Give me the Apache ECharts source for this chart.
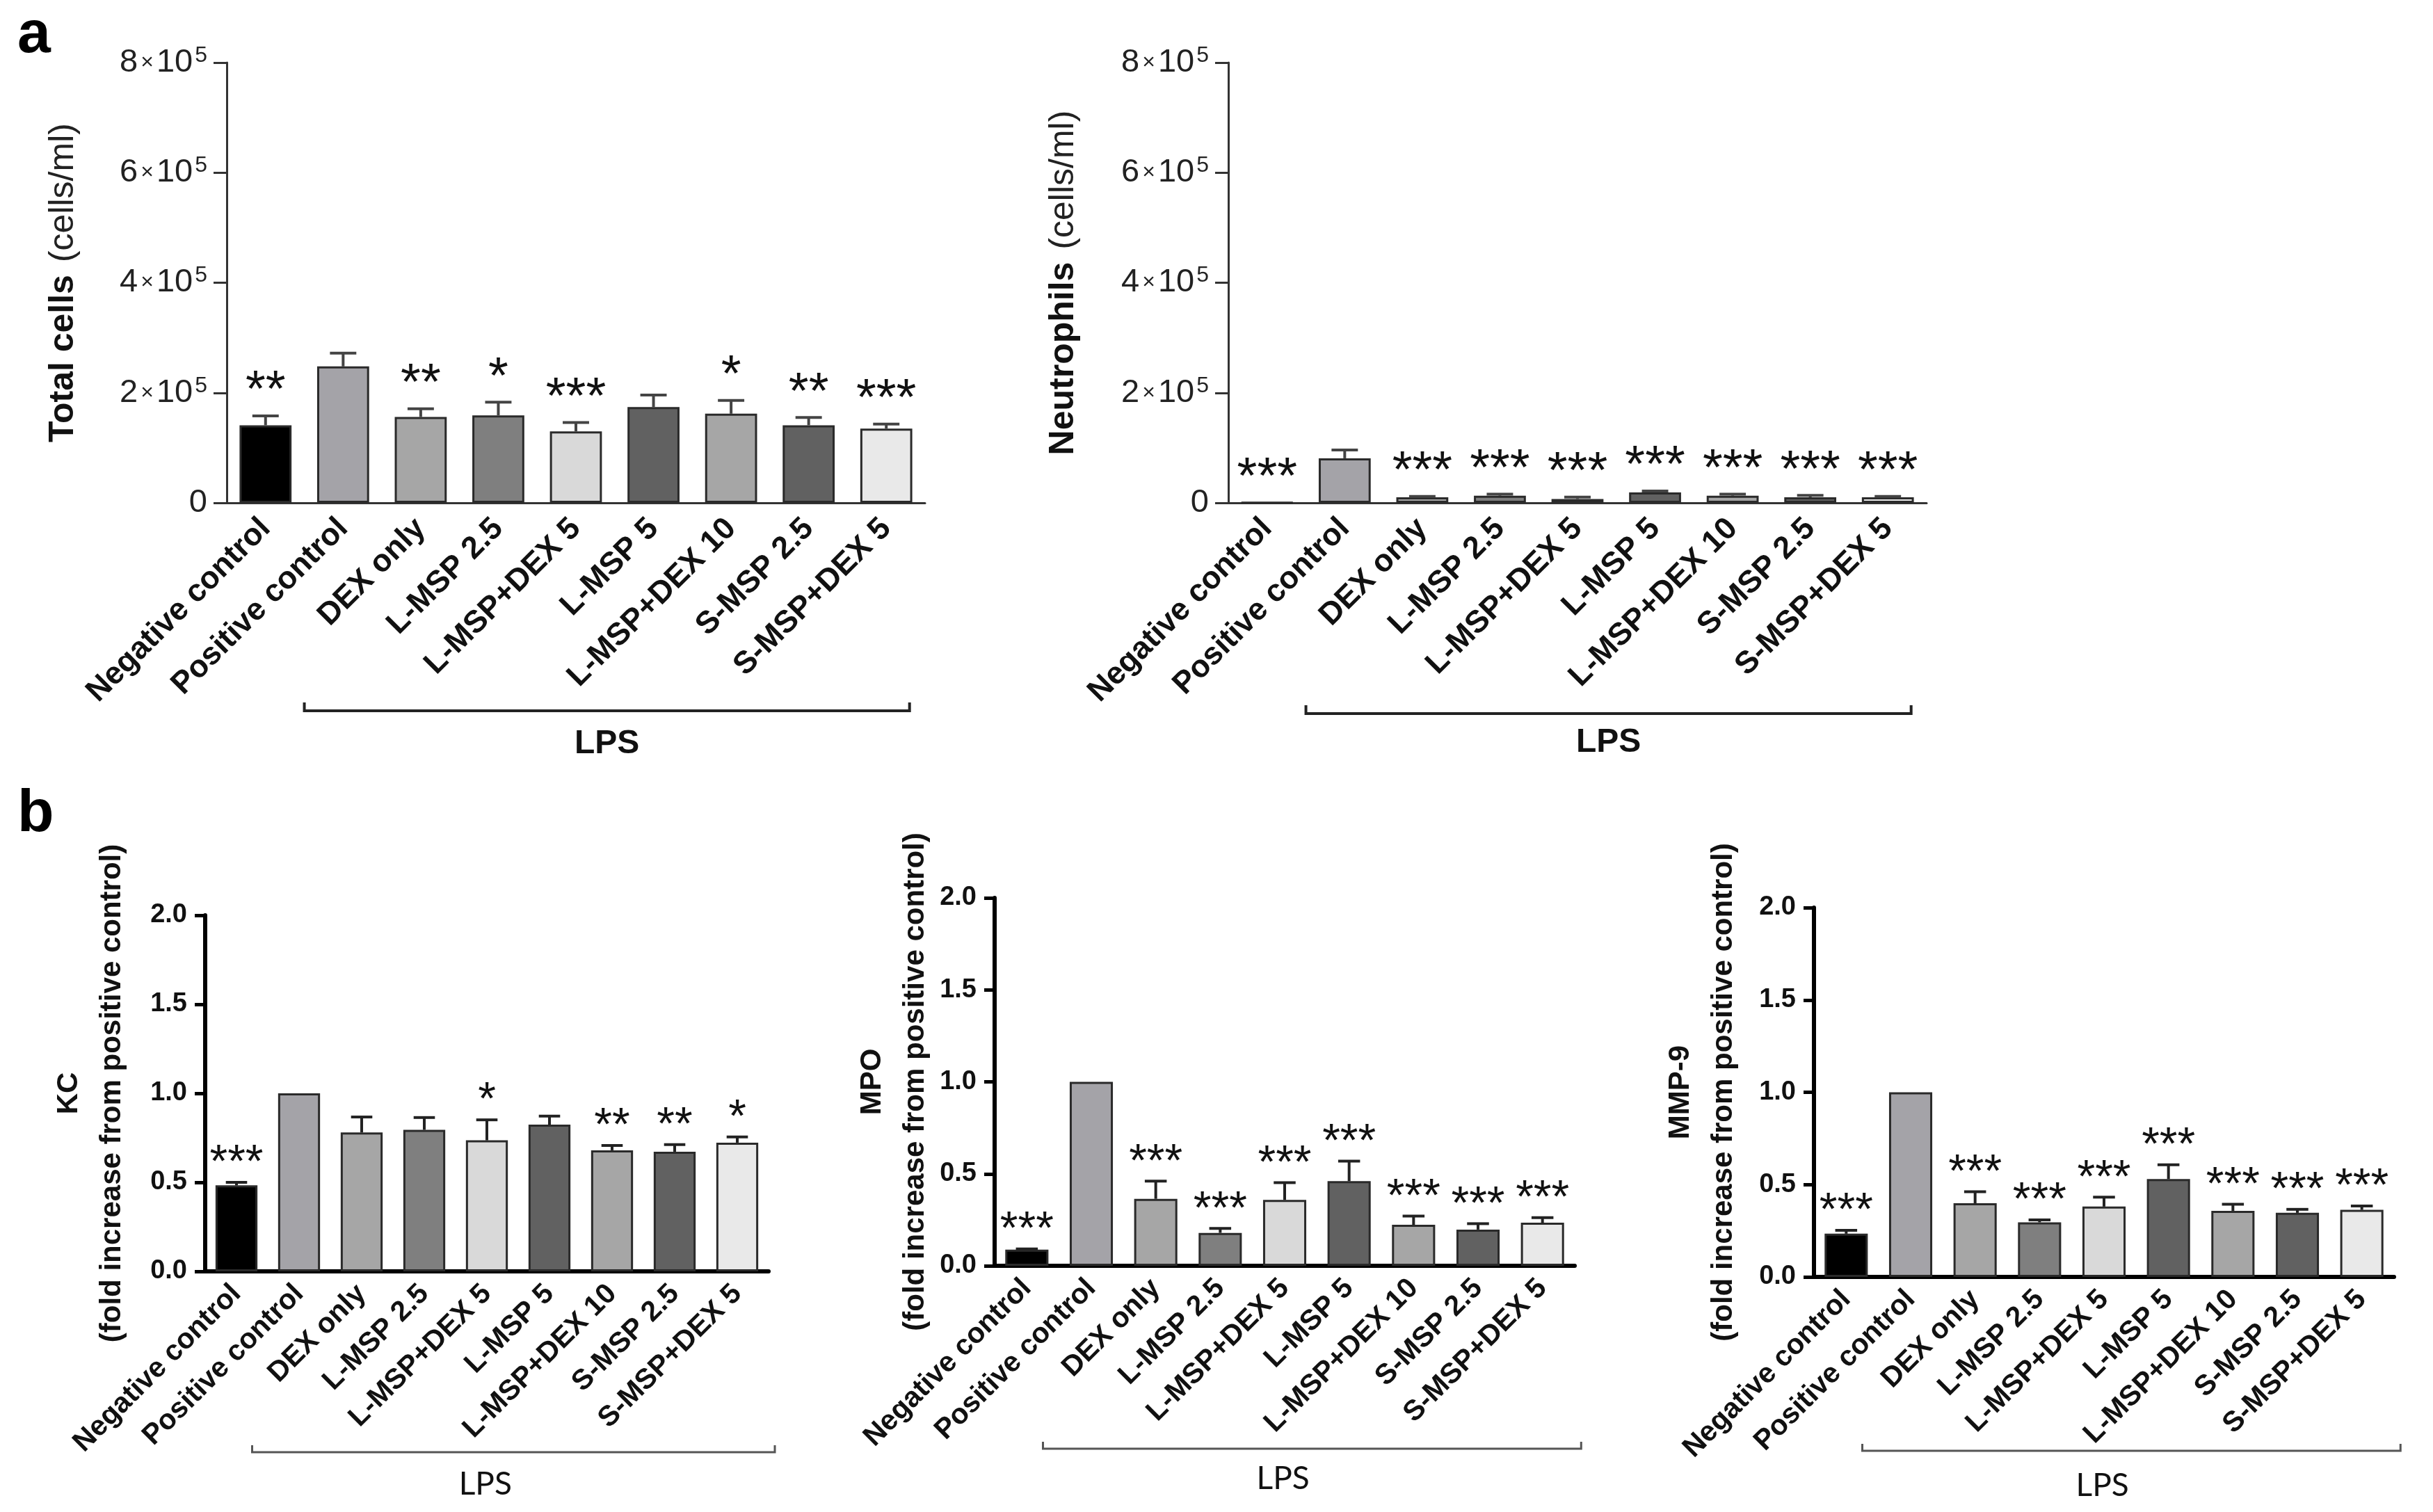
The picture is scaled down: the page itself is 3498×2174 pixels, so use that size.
<!DOCTYPE html>
<html>
<head>
<meta charset="utf-8">
<script src="https://cdn.jsdelivr.net/npm/echarts@6/dist/echarts.min.js"></script>
<style>
html, body { margin: 0; padding: 0; background: #fff; }
#chart { width: 3498px; height: 2174px; }
</style>
</head>
<body>
<div id="chart"></div>
<script>
// groups on the x axis (same for all five panels)
var groups = ['Negative control', 'Positive control', 'DEX only', 'L-MSP 2.5', 'L-MSP+DEX 5',
              'L-MSP 5', 'L-MSP+DEX 10', 'S-MSP 2.5', 'S-MSP+DEX 5'];
var barColors = ['#000000', '#a4a3a8', '#a6a6a6', '#7f7f7f', '#d9d9d9', '#616161', '#a6a6a6', '#616161', '#e9e9e9'];

// a - total cells (cells/ml)
var totalMean  = [141000, 248000, 156000, 159000, 130000, 174000, 162000, 141000, 135000];
var totalSem   = [17000, 24000, 15000, 24000, 16000, 22000, 24000, 14000, 8000];
var totalStars = ['**', '', '**', '*', '***', '', '*', '**', '***'];

// a - neutrophils (cells/ml)
var neutMean  = [800, 81000, 10000, 13000, 7000, 19000, 13000, 10000, 10000];
var neutSem   = [0, 15000, 1800, 2700, 3500, 2600, 2700, 3500, 1800];
var neutStars = ['***', '', '***', '***', '***', '***', '***', '***', '***'];

// b - fold increase from positive control
var kcMean  = [0.483, 1.0, 0.78, 0.795, 0.736, 0.824, 0.68, 0.672, 0.723];
var kcSem   = [0.017, 0, 0.087, 0.069, 0.115, 0.048, 0.027, 0.04, 0.032];
var kcStars = ['***', '', '', '', '*', '', '**', '**', '*'];

var mpoMean  = [0.088, 1.0, 0.364, 0.179, 0.358, 0.46, 0.223, 0.197, 0.234];
var mpoSem   = [0.004, 0, 0.096, 0.024, 0.094, 0.109, 0.047, 0.032, 0.028];
var mpoStars = ['***', '', '***', '***', '***', '***', '***', '***', '***'];

var mmpMean  = [0.234, 1.0, 0.399, 0.296, 0.381, 0.53, 0.358, 0.347, 0.363];
var mmpSem   = [0.018, 0, 0.062, 0.013, 0.051, 0.077, 0.036, 0.019, 0.021];
var mmpStars = ['***', '', '***', '***', '***', '***', '***', '***', '***'];

// y ticks
var ticksCells = [0, 200000, 400000, 600000, 800000];
var ticksFold  = [0, 0.5, 1.0, 1.5, 2.0];

var FONT = 'Liberation Sans';

var panels = [
    { kind: 'a', rect: [326, 90, 1004, 633], mean: totalMean, sem: totalSem, stars: totalStars,
      name: '{b|Total cells}{r|(cells/ml)}', nameGap: 210, bracketY: 1022, lpsY: 1070 },
    { kind: 'a', rect: [1766, 90, 1004, 633], mean: neutMean, sem: neutSem, stars: neutStars,
      name: '{b|Neutrophils}{r|(cells/ml)}', nameGap: 212, bracketY: 1026, lpsY: 1068 },
    { kind: 'b', rect: [295, 1316, 810, 512], mean: kcMean, sem: kcSem, stars: kcStars,
      name: 'KC\n(fold increase from positive control)', nameGap: 103, bracketY: 2088, lpsY: 2134 },
    { kind: 'b', rect: [1430, 1291, 834, 529], mean: mpoMean, sem: mpoSem, stars: mpoStars,
      name: 'MPO\n(fold increase from positive control)', nameGap: 77, bracketY: 2083, lpsY: 2126 },
    { kind: 'b', rect: [2608, 1305, 834, 531], mean: mmpMean, sem: mmpSem, stars: mmpStars,
      name: 'MMP-9\n(fold increase from positive control)', nameGap: 99, bracketY: 2086, lpsY: 2136 }
];

function cellLabel(v) {
    if (v === 0) return '{n|0}';
    return '{n|' + (v / 100000) + '}{x|×}{n|10}{s|5}';
}

function errRender(stars, off, fs, col) {
    return function (params, api) {
        var i = api.value(0), top = api.value(1), mean = api.value(2);
        var pTop = api.coord([i, top]);
        var pMean = api.coord([i, mean]);
        var half = api.size([1, 0])[0] * 0.17;
        var kids = [];
        if (top > mean) {
            kids.push({ type: 'line', shape: { x1: pTop[0], y1: pMean[1], x2: pTop[0], y2: pTop[1] },
                        style: { stroke: col, lineWidth: 4 } });
            kids.push({ type: 'line', shape: { x1: pTop[0] - half, y1: pTop[1], x2: pTop[0] + half, y2: pTop[1] },
                        style: { stroke: col, lineWidth: 4 } });
        }
        var s = stars[params.dataIndex];
        if (s) {
            kids.push({ type: 'text', x: pTop[0], y: pTop[1] - off,
                        style: { text: s, fontSize: fs, fontFamily: FONT, fill: '#111',
                                 align: 'center', verticalAlign: 'middle' } });
        }
        return { type: 'group', children: kids };
    };
}

var grids = [], xAxes = [], yAxes = [], series = [];
panels.forEach(function (p, i) {
    var isA = p.kind === 'a';
    var ticks = isA ? ticksCells : ticksFold;
    var axisCol = isA ? '#333' : '#000';
    var axisW = isA ? 3 : 6;
    grids.push({ left: p.rect[0], top: p.rect[1], width: p.rect[2], height: p.rect[3] });
    xAxes.push({
        gridIndex: i, type: 'category', data: groups,
        axisLine: { lineStyle: { color: axisCol, width: axisW } },
        axisTick: { alignWithLabel: true, length: isA ? 19 : 15, lineStyle: { color: axisCol, width: isA ? 3 : 5 } },
        axisLabel: { rotate: 45, interval: 0, margin: isA ? 30 : 26, fontFamily: FONT, fontWeight: 'bold',
                     fontSize: isA ? 45 : 41, color: '#111' }
    });
    yAxes.push({
        gridIndex: i, type: 'value', min: ticks[0], max: ticks[ticks.length - 1],
        interval: ticks[1] - ticks[0],
        splitLine: { show: false },
        axisLine: { show: true, lineStyle: { color: axisCol, width: axisW } },
        axisTick: { show: true, length: isA ? 19 : 15, lineStyle: { color: axisCol, width: isA ? 3 : 5 } },
        axisLabel: isA ? {
            margin: 28, formatter: cellLabel,
            rich: {
                n: { fontFamily: FONT, fontSize: 47, color: '#222' },
                x: { fontFamily: FONT, fontSize: 32, color: '#222', padding: [0, 4, 0, 4] },
                s: { fontFamily: FONT, fontSize: 32, color: '#222', verticalAlign: 'top', padding: [0, 0, 20, 3] }
            }
        } : {
            margin: 26, fontFamily: FONT, fontWeight: 'bold', fontSize: 38, color: '#111',
            formatter: function (v) { return v.toFixed(1); }
        },
        name: p.name, nameLocation: 'middle', nameRotate: 90, nameGap: p.nameGap,
        nameTextStyle: isA ? {
            rich: {
                b: { fontFamily: FONT, fontWeight: 'bold', fontSize: 50, color: '#111' },
                r: { fontFamily: FONT, fontSize: 50, color: '#222', padding: [0, 0, 0, 18] }
            }
        } : { fontFamily: FONT, fontWeight: 'bold', fontSize: 42, lineHeight: 62, color: '#111' }
    });
    series.push({
        type: 'bar', xAxisIndex: i, yAxisIndex: i, barCategoryGap: '33%',
        data: p.mean.map(function (v, k) { return { value: v, itemStyle: { color: barColors[k] } }; }),
        itemStyle: { borderColor: '#2a2a2a', borderWidth: 3 },
        silent: true
    });
    series.push({
        type: 'custom', xAxisIndex: i, yAxisIndex: i, z: 5, clip: false,
        renderItem: errRender(p.stars, isA ? 34 : 26, isA ? 74 : 66, isA ? '#444' : '#222'),
        encode: { x: 0, y: 1 },
        data: p.mean.map(function (v, k) { return [k, v + p.sem[k], v]; }),
        silent: true
    });
});

var chart = echarts.init(document.getElementById('chart'));
chart.setOption({
    backgroundColor: '#fff',
    animation: false,
    grid: grids, xAxis: xAxes, yAxis: yAxes, series: series
});

// LPS brackets under the treated groups, placed from the category axis
var graphics = [
    { type: 'text', left: 25, top: 8, style: { text: 'a', fontFamily: FONT, fontWeight: 'bold', fontSize: 86, fill: '#000' } },
    { type: 'text', left: 25, top: 1128, style: { text: 'b', fontFamily: FONT, fontWeight: 'bold', fontSize: 86, fill: '#000' } }
];
panels.forEach(function (p, i) {
    var isA = p.kind === 'a';
    var first = chart.convertToPixel({ gridIndex: i }, [1, 0]);
    var last = chart.convertToPixel({ gridIndex: i }, [groups.length - 1, 0]);
    var step = chart.convertToPixel({ gridIndex: i }, [2, 0])[0] - first[0];
    var x1 = first[0] - step * (isA ? 0.5 : 0.75);
    var x2 = last[0] + step * (isA ? 0.3 : 0.6);
    var y = p.bracketY, h = isA ? 12 : 10;
    graphics.push({
        type: 'polyline', silent: true,
        shape: { points: [[x1, y - h], [x1, y], [x2, y], [x2, y - h]] },
        style: { stroke: isA ? '#222' : '#555', lineWidth: isA ? 4 : 3, fill: null }
    });
    var cx = isA ? (x1 + x2) / 2 : (x1 + x2) / 2 - step * 0.45;
    graphics.push({
        type: 'text', x: cx, y: p.lpsY, silent: true,
        style: { text: 'LPS', fontFamily: isA ? FONT : 'Lato', fontWeight: isA ? 'bold' : 'normal',
                 fontSize: isA ? 48 : 46, fill: '#111', align: 'center', verticalAlign: 'middle' }
    });
});
chart.setOption({ graphic: graphics });
</script>
</body>
</html>
